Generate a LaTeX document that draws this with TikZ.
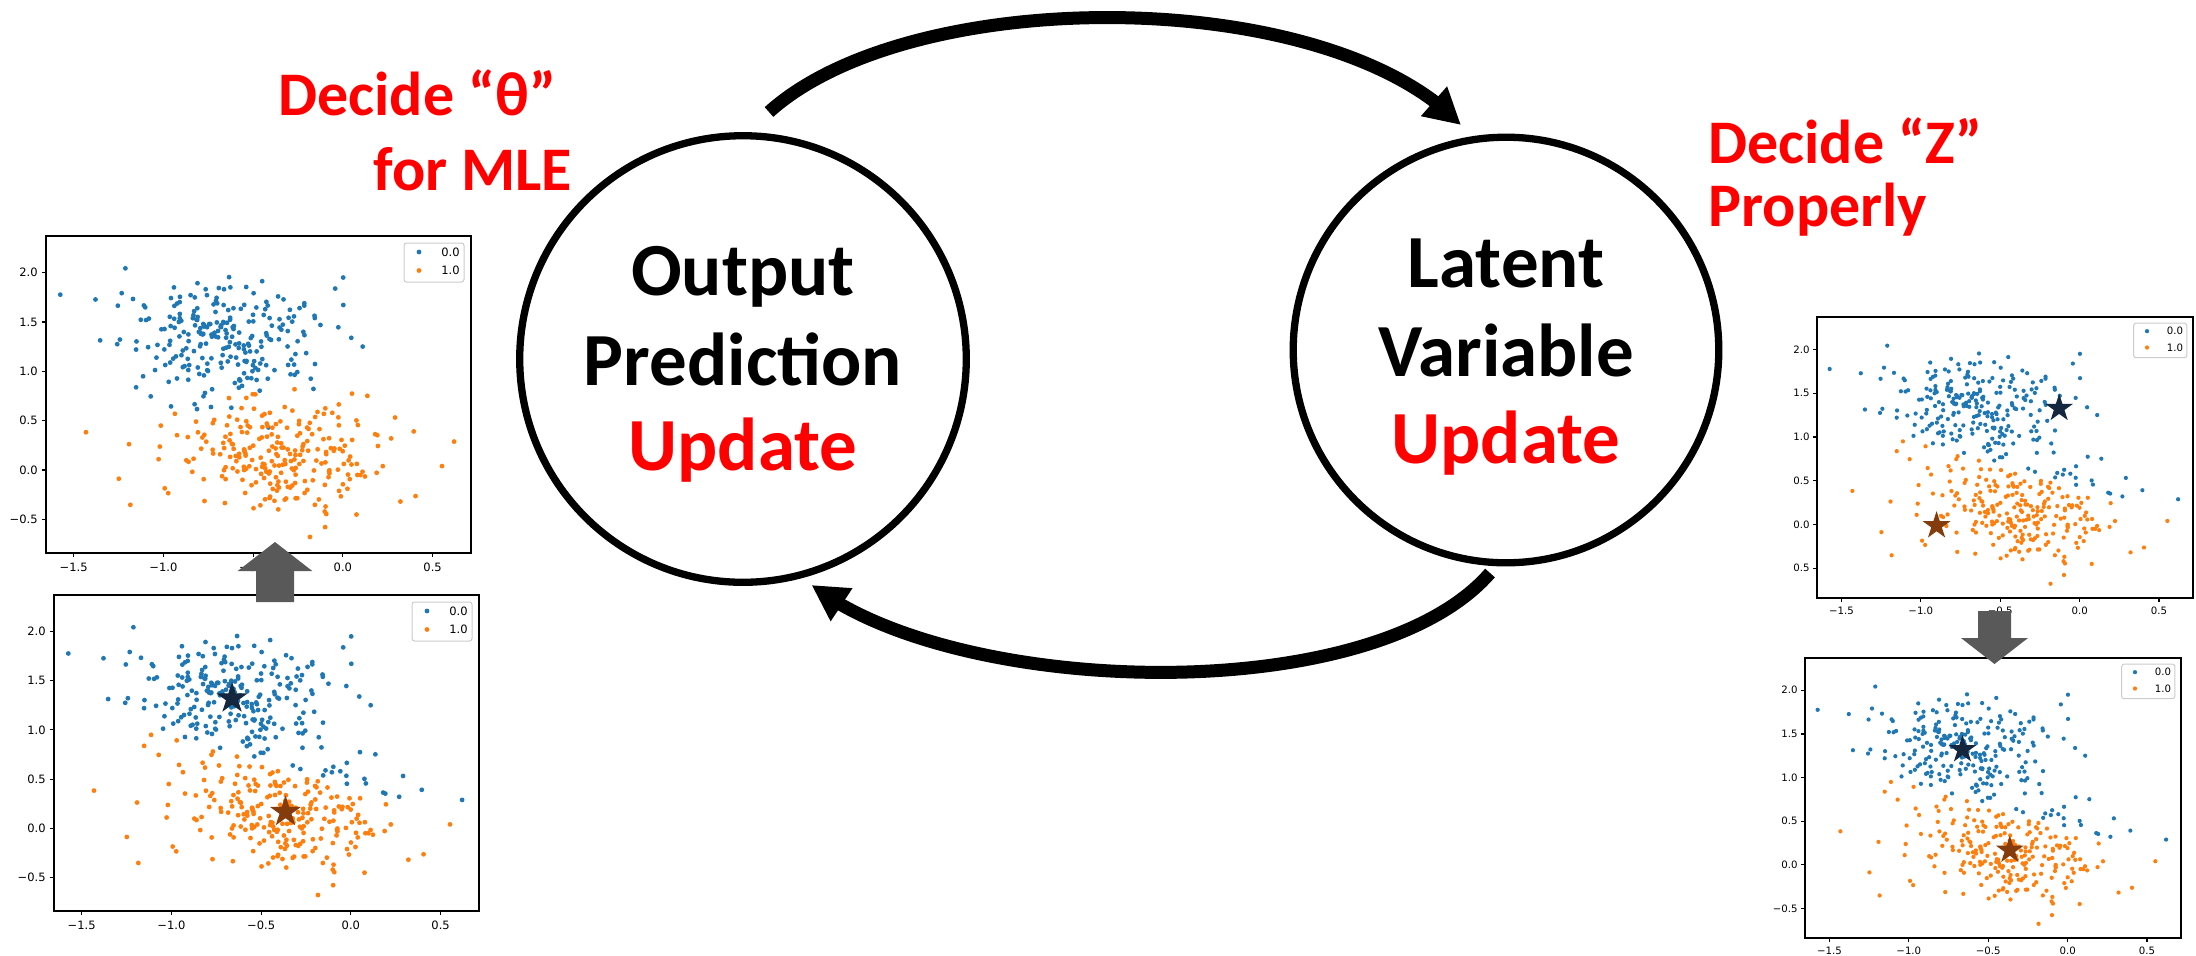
\documentclass[tikz,border=0pt]{standalone}
\usepackage{fontspec}
\setmainfont{Carlito}
\newfontfamily\dejavu{DejaVu Sans}
\usetikzlibrary{shapes.geometric,arrows.meta,calc,bending}
\definecolor{mblue}{HTML}{1F77B4}
\definecolor{morange}{HTML}{FF7F0E}
\definecolor{navystar}{HTML}{14273F}
\definecolor{brownstar}{HTML}{843C0C}
\definecolor{arrgray}{HTML}{595959}
\definecolor{legedge}{HTML}{CCCCCC}

\newcommand\drawplot[1]{%
  \pgfmathsetseed{20231}%
  \pgfmathsetmacro\dr{2.4*\S}%
  \foreach \cl in {0,1}{%
    \foreach \i in {1,...,250}{%
      \pgfmathsetmacro\ua{max(rnd,0.0002)}%
      \pgfmathsetmacro\ub{rnd}%
      \pgfmathsetmacro\rr{sqrt(-2*ln(\ua))}%
      \ifnum\cl=0 \def\cx{-0.68}\def\cy{1.36}\def\sx{0.28}\def\sy{0.29}\else\def\cx{-0.36}\def\cy{0.13}\def\sx{0.31}\def\sy{0.28}\fi
      \pgfmathsetmacro\dx{max(-1.58,min(0.62,\cx+\sx*\rr*cos(360*\ub)))}%
      \pgfmathsetmacro\dy{max(-0.72,min(2.25,\cy+\sy*\rr*sin(360*\ub)))}%
      \pgfmathsetmacro\px{\Xo+(\dx+1.654)/2.368*\W}%
      \pgfmathsetmacro\py{\Yo+(2.37-\dy)/3.21*\H}%
      \ifnum\Mode=0
        \ifnum\cl=0 \def\pc{mblue}\else\def\pc{morange}\fi
      \else
        \pgfmathtruncatemacro\isb{(\dy > 1.21-0.54*(\dx+1.5)) ? 1 : 0}%
        \ifnum\isb=1 \def\pc{mblue}\else\def\pc{morange}\fi
      \fi
      \fill[\pc] ({\px},{\py}) circle[radius=\dr];
    }%
  }%
  \draw[axisline] (\Xo,\Yo) rectangle ({\Xo+\W},{\Yo+\H});
  \pgfmathsetmacro\fs{5.75*\S}%
  \foreach \t/\lab [count=\k] in {-1.5/{−1.5},-1/{−1.0},-0.5/{−0.5},0/{0.0},0.5/{0.5}}{%
    \pgfmathsetmacro\tx{\Xo+(\t+1.654)/2.368*\W}%
    \draw[axisline] ({\tx},{\Yo+\H}) -- ({\tx},{\Yo+\H+4*\S});
    \node[ticklab, anchor=north, font=\fontsize{\fs}{\fs}\selectfont\dejavu] (#1x\k) at ({\tx},{\Yo+\H+9.5*\S}) {\lab};
  }%
  \foreach \t/\lab [count=\k] in {-0.5/{\ymlab},0/{0.0},0.5/{0.5},1/{1.0},1.5/{1.5},2/{2.0}}{%
    \pgfmathsetmacro\ty{\Yo+(2.37-\t)/3.21*\H}%
    \draw[axisline] ({\Xo},{\ty}) -- ({\Xo-4*\S},{\ty});
    \node[ticklab, anchor=east, font=\fontsize{\fs}{\fs}\selectfont\dejavu] (#1y\k) at ({\Xo-8*\S},{\ty}) {\lab};
  }%
  \pgfmathsetmacro\lxa{\Xo+\W-67*\S}%
  \pgfmathsetmacro\lya{\Yo+7*\S}%
  \pgfmathsetmacro\lxb{\Xo+\W-7*\S}%
  \pgfmathsetmacro\lyb{\Yo+46*\S}%
  \pgfmathsetmacro\rc{1.3*\S}%
  \draw[draw=legedge, fill=white, line width=0.5pt, rounded corners=\rc pt] (\lxa,\lya) rectangle (\lxb,\lyb);
  \fill[mblue] ({\lxa+15*\S},{\lya+9*\S}) circle[radius=\dr];
  \fill[morange] ({\lxa+15*\S},{\lya+27.5*\S}) circle[radius=\dr];
  \node[ticklab, anchor=west, font=\fontsize{\fs}{\fs}\selectfont\dejavu] (#1l0) at ({\lxa+37*\S},{\lya+9*\S}) {0.0};
  \node[ticklab, anchor=west, font=\fontsize{\fs}{\fs}\selectfont\dejavu] (#1l1) at ({\lxa+37*\S},{\lya+27.5*\S}) {1.0};
  \ifnum\Stars=1
    \pgfmathsetmacro\ssz{16.5*\S}%
    \node[starmark, fill=navystar, minimum size=\ssz pt] (#1sa) at ({\Xo+(\Sax+1.654)/2.368*\W},{\Yo+(2.37-\Say)/3.21*\H}) {};
    \node[starmark, fill=brownstar, minimum size=\ssz pt] (#1sb) at ({\Xo+(\Sbx+1.654)/2.368*\W},{\Yo+(2.37-\Sby)/3.21*\H}) {};
  \fi
}

\begin{document}
\begin{tikzpicture}[x=0.5pt,y=-0.5pt,
  axisline/.style={draw=black, line width=0.6pt},
  ticklab/.style={inner sep=0pt, text=black},
  starmark/.style={star, star points=5, star point ratio=2.618, inner sep=0pt, draw=none},
  bigcirc/.style={circle, draw=black, line width=3.65pt, inner sep=0pt},
  cyc/.style={line width=6.5pt, -{Triangle[length=18pt,width=18.5pt]}},
  redlab/.style={font=\fontsize{31}{37}\selectfont\bfseries, text=red, anchor=base west, inner sep=0pt},
  ctext/.style={font=\fontsize{37.5}{44}\selectfont\bfseries, anchor=base, inner sep=0pt},
  blockarrow/.style={fill=arrgray, draw=none}]
\useasboundingbox (0,0) rectangle (2196,955);
\fill[white] (0,0) rectangle (2196,955);

% scatter plots
\def\ymlab{−0.5}
\def\Xo{46}\def\Yo{236}\def\W{425}\def\H{317}\def\S{1}\def\Mode{0}\def\Stars{0}
\drawplot{pa}
\def\Xo{54}\def\Yo{595}\def\W{425}\def\H{316}\def\S{1}\def\Mode{1}\def\Stars{1}
\def\Sax{-0.662}\def\Say{1.32}\def\Sbx{-0.364}\def\Sby{0.167}
\drawplot{pb}
\def\ymlab{0.5}
\def\Xo{1817}\def\Yo{317}\def\W{376}\def\H{281}\def\S{0.885}\def\Mode{1}\def\Stars{1}
\def\Sax{-0.129}\def\Say{1.327}\def\Sbx{-0.901}\def\Sby{-0.014}
\drawplot{pc}
\def\ymlab{−0.5}
\def\Xo{1805}\def\Yo{658}\def\W{376}\def\H{280}\def\S{0.885}\def\Mode{1}\def\Stars{1}
\def\Sax{-0.662}\def\Say{1.32}\def\Sbx{-0.364}\def\Sby{0.167}
\drawplot{pd}

% gray block arrows between plots
\fill[blockarrow] (256,602) -- (256,571) -- (237.7,571) -- (275,542) -- (312.3,571) -- (294,571) -- (294,602) -- cycle;
\fill[blockarrow] (1978,611) -- (2011,611) -- (2011,638) -- (2028,638) -- (1994.5,664) -- (1961,638) -- (1978,638) -- cycle;

% circles
\node[bigcirc, minimum size=223.3pt] (L) at (743,359) {};
\node[bigcirc, minimum size=212.8pt] (R) at (1506,350) {};

\node[ctext] (L1) at (743,295) {Output};
\node[ctext] (L2) at (743,385) {Prediction};
\node[ctext, text=red] (L3) at (743,470) {Update};
\node[ctext] (R1) at (1506,287) {Latent};
\node[ctext] (R2) at (1506,376) {Variable};
\node[ctext, text=red] (R3) at (1506,463) {Update};

% red labels
\node[redlab] (t1) at (278,115) {Decide “θ”};
\node[redlab] (t2) at (373,190) {for MLE};
\node[redlab] (t3) at (1708,163) {Decide “Z”};
\node[redlab] (t4) at (1708,226) {Properly};

% cycle arrows
\coordinate (a1s) at ($(L.center)+(26,-247)$);
\coordinate (a1e) at ($(R.center)+(-45,-225)$);
\draw[cyc] (a1s) .. controls (912,-17) and (1328,-15) .. (a1e);
\coordinate (a2s) at ($(R.center)+(-16,223)$);
\coordinate (a2e) at ($(L.center)+(68.5,226)$);
\draw[cyc] (a2s) .. controls (1371,710) and (955,697) .. (a2e);
\end{tikzpicture}
\end{document}
